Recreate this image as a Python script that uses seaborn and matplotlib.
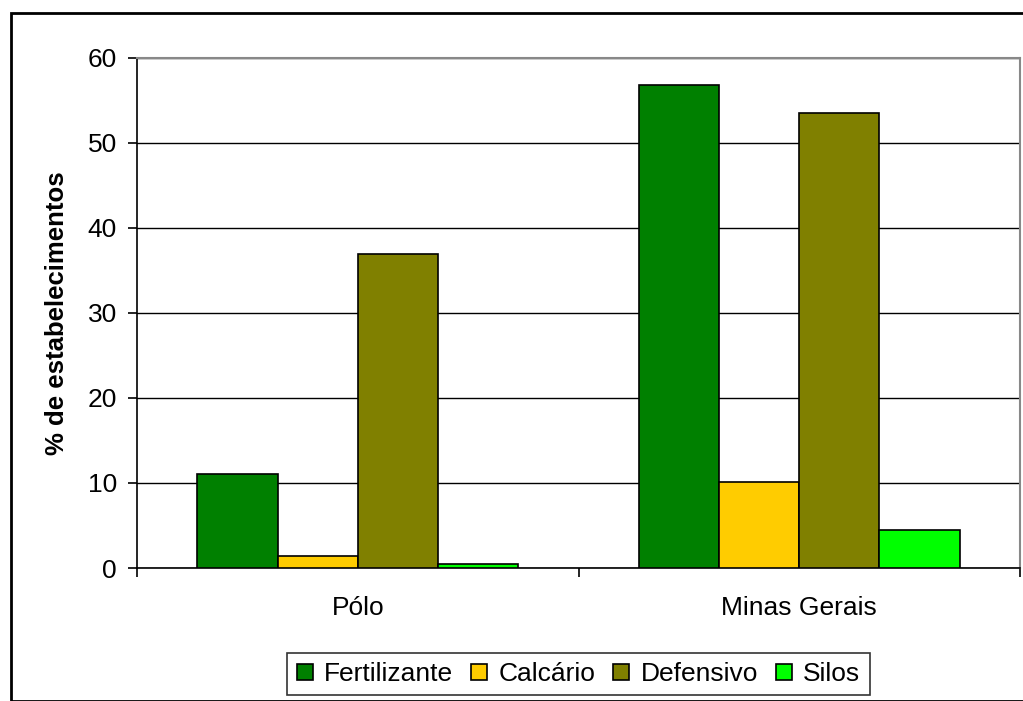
import pandas as pd
import seaborn as sns
import matplotlib.pyplot as plt
from matplotlib.patches import Rectangle

# Dados
regioes = ["Pólo", "Minas Gerais"]
insumos = ["Fertilizante", "Calcário", "Defensivo", "Silos"]
fertilizante = [11.1, 56.8]
calcario = [1.45, 10.15]
defensivo = [36.9, 53.5]
silos = [0.5, 4.5]
cores = ["#008000", "#FFCC00", "#808000", "#00FF00"]

valores = [fertilizante, calcario, defensivo, silos]
linhas = []
for insumo, serie in zip(insumos, valores):
    for regiao, v in zip(regioes, serie):
        linhas.append({"Região": regiao, "Insumo": insumo, "Valor": v})
df = pd.DataFrame(linhas)

sns.set_style("white")
plt.rcParams["font.family"] = ["Liberation Sans", "DejaVu Sans"]
plt.rcParams["text.color"] = "black"
plt.rcParams["axes.labelcolor"] = "black"
plt.rcParams["xtick.color"] = "black"
plt.rcParams["ytick.color"] = "black"

fs = 19

fig = plt.figure(figsize=(10.23, 7.01), dpi=100)
ax = fig.add_axes([137 / 1023, 133 / 701, (1020 - 137) / 1023, (568 - 57.5) / 701])

sns.barplot(data=df, x="Região", y="Valor", hue="Insumo", order=regioes,
            hue_order=insumos, palette=cores, width=0.727, edgecolor="black",
            linewidth=1.2, saturation=1, ax=ax, zorder=3)

ax.set_ylim(0, 60)
ax.set_xlim(-0.5, 1.5)
ax.set_yticks(range(0, 61, 10))
ax.yaxis.grid(True, color="black", linewidth=1, zorder=0)
ax.set_axisbelow(True)
ax.set_xlabel("")
ax.set_ylabel("% de estabelecimentos", fontsize=fs - 0.5, fontweight="bold", labelpad=13)
ax.tick_params(axis="y", labelsize=fs, direction="out", length=6.5, width=1.2,
               left=True, pad=8, color="black")
ax.tick_params(axis="x", which="major", labelsize=fs, length=0, pad=20)
ax.set_xticks([-0.5, 0.5, 1.5], minor=True)
ax.tick_params(axis="x", which="minor", direction="out", length=6.5, width=1.2,
               bottom=True, color="black")

for lado in ["left", "bottom"]:
    ax.spines[lado].set_color("black")
    ax.spines[lado].set_linewidth(1.2)
for lado in ["top", "right"]:
    ax.spines[lado].set_color("#888888")
    ax.spines[lado].set_linewidth(1.5)

ax.legend(loc="upper center", bbox_to_anchor=(0.5, -0.1665), ncol=4,
          frameon=True, fancybox=False, edgecolor="black", fontsize=fs,
          handlelength=0.6, handleheight=0.6, handletextpad=0.42,
          columnspacing=0.7, borderpad=0.35, borderaxespad=0)
ax.get_legend().get_frame().set_linewidth(1.2)

# Moldura externa
fig.patches.append(Rectangle((11 / 1023, 0), 1.05, (701 - 13) / 701,
                             transform=fig.transFigure, fill=False,
                             edgecolor="black", linewidth=2))

fig.savefig("out.png", dpi=100)
